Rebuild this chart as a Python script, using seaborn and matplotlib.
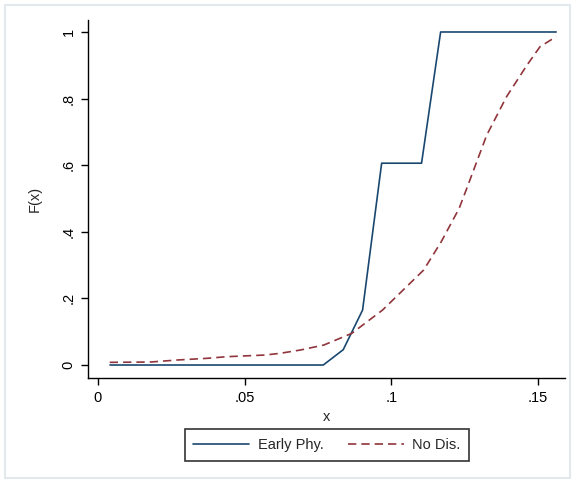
import matplotlib
matplotlib.use("Agg")
import matplotlib.pyplot as plt
import seaborn as sns
import pandas as pd
from matplotlib.patches import Rectangle
from matplotlib.lines import Line2D

# Data
early_x = [0.0041, 0.0768, 0.0836, 0.0902, 0.0967, 0.1103, 0.1168, 0.1562]
early_y = [0.0, 0.0, 0.046, 0.165, 0.606, 0.606, 1.0, 1.0]

nodis_x = [0.004, 0.018, 0.027, 0.037, 0.044, 0.057, 0.062, 0.069, 0.077, 0.0865,
           0.097, 0.104, 0.111, 0.117, 0.1231, 0.1257, 0.1325, 0.1393, 0.1462, 0.1507, 0.1562]
nodis_y = [0.008, 0.009, 0.015, 0.02, 0.025, 0.03, 0.035, 0.045, 0.06, 0.095,
           0.165, 0.225, 0.285, 0.37, 0.47, 0.53, 0.69, 0.806, 0.90, 0.956, 0.986]

labels = ["Early Phy.", "No Dis."]
xticks = [0, 0.05, 0.1, 0.15]
xticklabels = ["0", ".05", ".1", ".15"]
yticks = [0, 0.2, 0.4, 0.6, 0.8, 1.0]
yticklabels = ["0", ".2", ".4", ".6", ".8", "1"]

sns.set_style("ticks")
plt.rcParams['font.family'] = ['Liberation Sans', 'DejaVu Sans']

W, H = 575, 483
fig = plt.figure(figsize=(W / 100, H / 100), dpi=100)
fig.patch.set_facecolor("white")
# outer light frame
fig.add_artist(Rectangle((5 / W, 5 / H), 565 / W, 473 / H, transform=fig.transFigure,
                         fill=False, edgecolor="#e3e8ec", linewidth=1.5))

ax = fig.add_axes([88 / W, 1 - 378 / H, (565 - 88) / W, (378 - 20) / H])

blue = "#1a476f"
red = "#90353b"

df1 = pd.DataFrame({"x": early_x, "y": early_y})
df2 = pd.DataFrame({"x": nodis_x, "y": nodis_y})
sns.lineplot(data=df1, x="x", y="y", ax=ax, color=blue, linewidth=1.2, sort=False,
             estimator=None)
sns.lineplot(data=df2, x="x", y="y", ax=ax, color=red, linewidth=1.2, sort=False,
             estimator=None, linestyle=(0, (5, 3)))

ax.set_xlim(-0.0034, 0.1592)
ax.set_ylim(-0.039, 1.036)
ax.set_xticks(xticks)
ax.set_xticklabels(xticklabels)
ax.set_yticks(yticks)
ax.set_yticklabels(yticklabels, rotation=90, va="center")
ax.tick_params(axis="both", direction="out", length=5, width=1, colors="black",
               labelsize=10.5, pad=4)
for s in ["top", "right"]:
    ax.spines[s].set_visible(False)
for s in ["left", "bottom"]:
    ax.spines[s].set_linewidth(1.0)
    ax.spines[s].set_color("black")

ax.set_xlabel("x", fontsize=10.5, labelpad=4)
ax.set_ylabel("F(x)", fontsize=10.5, labelpad=14)

handles = [Line2D([], [], color=blue, linewidth=1.2),
           Line2D([], [], color=red, linewidth=1.2, linestyle=(0, (5, 3)))]
leg = ax.legend(handles, labels, loc="center", bbox_to_anchor=(327 / W, 1 - 445 / H),
                bbox_transform=fig.transFigure, ncol=2, frameon=True, fancybox=False,
                edgecolor="black", fontsize=10.5, handlelength=3.8, columnspacing=1.7,
                borderpad=0.6, handletextpad=0.6, borderaxespad=0)
leg.get_frame().set_linewidth(1.2)

fig.savefig("out.png", dpi=100, facecolor="white")
